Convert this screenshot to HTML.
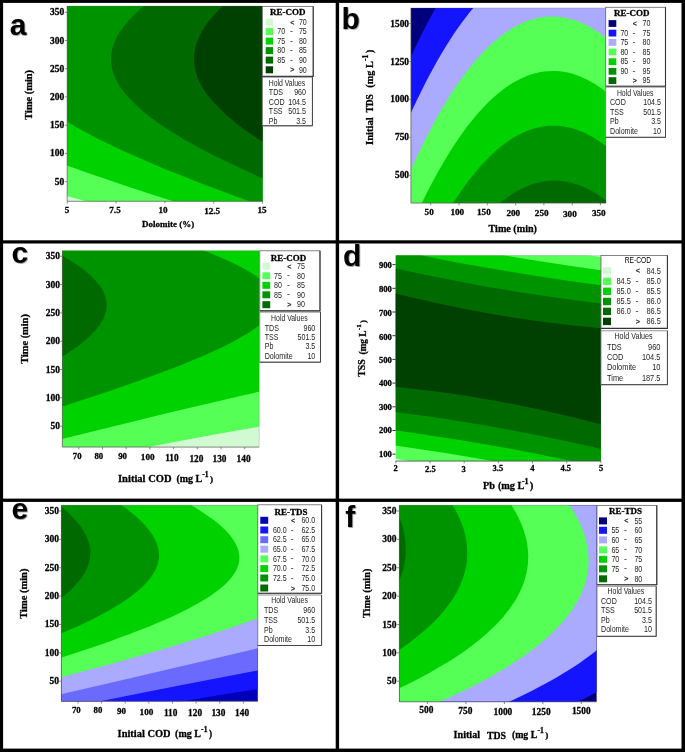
<!DOCTYPE html>
<html><head><meta charset="utf-8"><title>Contour plots</title>
<style>
html,body{margin:0;padding:0;background:#fff;}
body{width:685px;height:752px;overflow:hidden;font-family:"Liberation Sans",sans-serif;}
svg{display:block;}
</style></head><body>
<svg width="685" height="752" viewBox="0 0 685 752">
<g opacity="0.999">
<rect x="0" y="0" width="685" height="752" fill="#fff"/>
<clipPath id="cpa"><rect x="67.20" y="6.00" width="195.40" height="195.30"/></clipPath>
<g clip-path="url(#cpa)">
<rect x="66.20" y="5.00" width="197.40" height="197.30" fill="#d2fad2"/>
<path d="M66.20,5.00 L263.60,5.00 L263.60,202.30 L89.84,202.30 L66.20,195.75 L66.20,5.00Z" fill="#55ff55"/>
<path d="M66.20,5.00 L263.60,5.00 L263.60,202.30 L176.34,202.30 L145.82,192.40 L117.99,183.16 L104.35,178.54 L90.92,173.93 L77.70,169.31 L66.20,165.22 L66.20,5.00Z" fill="#00d200"/>
<path d="M66.20,5.00 L263.60,5.00 L263.60,202.30 L252.26,202.30 L228.70,193.72 L216.30,189.10 L205.85,185.14 L193.86,180.52 L183.77,176.57 L173.86,172.61 L164.15,168.65 L148.41,162.05 L134.76,156.11 L127.40,152.81 L120.20,149.51 L113.18,146.21 L107.70,143.57 L101.01,140.27 L95.79,137.63 L90.70,134.99 L85.75,132.35 L79.74,129.05 L75.08,126.42 L70.57,123.78 L66.20,121.13 L66.20,5.00Z" fill="#009300"/>
<path d="M144.35,5.66 L145.16,5.00 L263.60,5.00 L263.60,178.67 L249.95,172.61 L235.63,166.01 L223.24,160.07 L211.36,154.13 L204.98,150.83 L200.00,148.19 L193.93,144.89 L189.20,142.25 L183.45,138.95 L178.98,136.31 L174.63,133.67 L170.41,131.03 L165.30,127.74 L161.37,125.10 L157.56,122.46 L153.89,119.82 L150.35,117.18 L146.95,114.54 L143.70,111.90 L140.58,109.26 L137.61,106.62 L134.79,103.98 L132.12,101.34 L129.60,98.70 L127.23,96.06 L125.02,93.42 L122.96,90.78 L121.06,88.14 L119.33,85.50 L117.75,82.86 L116.34,80.22 L115.09,77.59 L114.00,74.95 L113.08,72.31 L112.33,69.67 L111.88,67.69 L111.42,65.05 L111.18,63.07 L111.02,60.43 L111.02,57.79 L111.19,55.15 L111.52,52.51 L112.03,49.87 L112.70,47.23 L113.31,45.25 L114.27,42.61 L115.39,39.97 L116.68,37.33 L118.13,34.69 L119.74,32.05 L121.52,29.42 L123.45,26.78 L125.53,24.14 L127.77,21.50 L130.17,18.86 L132.71,16.22 L135.40,13.58 L138.24,10.94 L141.23,8.30 L144.35,5.66Z" fill="#006a00"/>
<path d="M223.15,5.66 L223.86,5.00 L263.60,5.00 L263.60,142.28 L256.37,137.63 L249.54,133.01 L243.07,128.39 L237.80,124.44 L232.01,119.82 L228.87,117.18 L226.60,115.20 L223.68,112.56 L221.57,110.58 L217.58,106.62 L215.09,103.98 L213.31,102.00 L209.97,98.04 L207.92,95.40 L206.47,93.42 L205.10,91.44 L203.80,89.46 L202.59,87.48 L201.09,84.84 L200.07,82.86 L199.12,80.88 L198.25,78.91 L197.47,76.93 L196.76,74.95 L196.14,72.97 L195.60,70.99 L195.14,69.01 L194.65,66.37 L194.38,64.39 L194.20,62.41 L194.09,60.43 L194.07,58.45 L194.13,56.47 L194.28,54.49 L194.50,52.51 L194.81,50.53 L195.20,48.55 L195.67,46.57 L196.23,44.59 L197.09,41.95 L197.83,39.97 L198.66,37.99 L199.56,36.01 L200.54,34.03 L201.98,31.39 L203.15,29.42 L204.39,27.44 L205.72,25.46 L207.61,22.82 L209.11,20.84 L210.70,18.86 L212.35,16.88 L214.68,14.24 L218.42,10.28 L220.40,8.30 L223.15,5.66Z" fill="#004000"/>
</g>
<path d="M67.20,6.00 V201.30 H262.60" fill="none" stroke="#555" stroke-width="0.7"/>
<path d="M67.20,6.00 H262.60 V201.30" fill="none" stroke="#666" stroke-width="0.4" opacity="0.6"/>
<path d="M67.20,201.30 v2.2M116.05,201.30 v2.2M164.90,201.30 v2.2M213.75,201.30 v2.2M262.60,201.30 v2.2" stroke="#555" stroke-width="0.7" fill="none"/>
<path d="M67.00,12.30 h-2.20M67.00,40.50 h-2.20M67.00,68.70 h-2.20M67.00,96.90 h-2.20M67.00,125.20 h-2.20M67.00,153.40 h-2.20M67.00,181.60 h-2.20" stroke="#666" stroke-width="0.70" fill="none"/>
<text x="64.20" y="15.30" font-family="Liberation Serif, serif" font-size="9.50" text-anchor="end" font-weight="bold" fill="#000" stroke="#000" stroke-width="0.28">350</text>
<text x="64.20" y="43.50" font-family="Liberation Serif, serif" font-size="9.50" text-anchor="end" font-weight="bold" fill="#000" stroke="#000" stroke-width="0.28">300</text>
<text x="64.20" y="71.70" font-family="Liberation Serif, serif" font-size="9.50" text-anchor="end" font-weight="bold" fill="#000" stroke="#000" stroke-width="0.28">250</text>
<text x="64.20" y="99.90" font-family="Liberation Serif, serif" font-size="9.50" text-anchor="end" font-weight="bold" fill="#000" stroke="#000" stroke-width="0.28">200</text>
<text x="64.20" y="128.20" font-family="Liberation Serif, serif" font-size="9.50" text-anchor="end" font-weight="bold" fill="#000" stroke="#000" stroke-width="0.28">150</text>
<text x="64.20" y="156.40" font-family="Liberation Serif, serif" font-size="9.50" text-anchor="end" font-weight="bold" fill="#000" stroke="#000" stroke-width="0.28">100</text>
<text x="64.20" y="184.60" font-family="Liberation Serif, serif" font-size="9.50" text-anchor="end" font-weight="bold" fill="#000" stroke="#000" stroke-width="0.28">50</text>
<text x="67.10" y="213.30" font-family="Liberation Serif, serif" font-size="9.10" text-anchor="middle" font-weight="bold" fill="#000" stroke="#000" stroke-width="0.28">5</text>
<text x="115.00" y="213.30" font-family="Liberation Serif, serif" font-size="9.10" text-anchor="middle" font-weight="bold" fill="#000" stroke="#000" stroke-width="0.28">7.5</text>
<text x="163.10" y="213.30" font-family="Liberation Serif, serif" font-size="9.10" text-anchor="middle" font-weight="bold" fill="#000" stroke="#000" stroke-width="0.28">10</text>
<text x="212.10" y="214.10" font-family="Liberation Serif, serif" font-size="9.10" text-anchor="middle" font-weight="bold" fill="#000" stroke="#000" stroke-width="0.28">12.5</text>
<text x="262.00" y="213.30" font-family="Liberation Serif, serif" font-size="9.10" text-anchor="middle" font-weight="bold" fill="#000" stroke="#000" stroke-width="0.28">15</text>
<text x="142.10" y="227.10" font-family="Liberation Serif, serif" font-size="8.99" font-weight="bold" fill="#000" stroke="#000" stroke-width="0.28">Dolomite (%)</text>
<text x="32.40" y="119.70" font-family="Liberation Serif, serif" font-size="10.40" font-weight="bold" fill="#000" transform="rotate(-90 32.40 119.70)" stroke="#000" stroke-width="0.28">Time (min)</text>
<clipPath id="cpb"><rect x="410.90" y="7.90" width="195.20" height="195.20"/></clipPath>
<g clip-path="url(#cpb)">
<rect x="409.90" y="6.90" width="197.20" height="197.20" fill="#00007c"/>
<path d="M436.26,6.90 L607.10,6.90 L607.10,204.10 L409.90,204.10 L409.90,58.86 L413.20,51.73 L416.50,44.78 L419.79,38.02 L423.09,31.43 L426.39,25.02 L429.69,18.79 L432.98,12.74 L436.26,6.90Z" fill="#1414ff"/>
<path d="M473.62,7.56 L474.18,6.90 L607.10,6.90 L607.10,204.10 L409.90,204.10 L409.90,115.21 L413.86,106.59 L417.81,98.23 L421.77,90.13 L425.73,82.28 L429.69,74.70 L433.64,67.38 L437.60,60.31 L441.56,53.49 L445.51,46.93 L449.47,40.63 L453.43,34.57 L457.39,28.77 L461.34,23.21 L465.30,17.91 L469.26,12.85 L473.62,7.56Z" fill="#aaaaff"/>
<path d="M546.05,16.79 L549.72,16.57 L553.68,16.56 L557.64,16.77 L561.59,17.22 L564.89,17.77 L568.85,18.65 L572.80,19.75 L576.76,21.08 L580.06,22.36 L584.02,24.12 L587.97,26.09 L591.93,28.30 L595.23,30.31 L599.19,32.94 L603.14,35.79 L607.10,38.86 L607.10,204.10 L409.90,204.10 L409.90,171.84 L413.20,164.56 L415.96,158.59 L419.13,151.91 L422.43,145.14 L425.73,138.56 L429.03,132.15 L432.32,125.92 L435.62,119.87 L438.92,114.00 L442.22,108.31 L445.51,102.79 L448.81,97.45 L452.11,92.29 L455.41,87.30 L458.71,82.49 L462.00,77.85 L466.71,71.53 L469.26,68.26 L471.90,64.97 L474.53,61.80 L477.17,58.74 L479.81,55.79 L482.45,52.94 L485.09,50.21 L487.72,47.58 L490.36,45.06 L493.00,42.65 L495.64,40.35 L498.28,38.16 L500.92,36.07 L503.55,34.09 L506.19,32.22 L508.83,30.45 L511.47,28.80 L514.11,27.24 L516.74,25.80 L519.38,24.45 L522.02,23.22 L524.66,22.09 L527.30,21.06 L529.93,20.14 L532.57,19.33 L535.21,18.62 L537.85,18.01 L540.49,17.51 L543.13,17.11 L546.05,16.79Z" fill="#55ff55"/>
<path d="M544.14,71.53 L547.74,71.17 L551.70,70.99 L555.66,71.05 L559.61,71.34 L563.57,71.86 L567.53,72.61 L571.49,73.60 L575.44,74.81 L579.40,76.26 L583.36,77.93 L587.31,79.84 L591.27,81.97 L595.23,84.33 L599.19,86.92 L603.14,89.74 L607.10,92.78 L607.10,204.10 L421.30,204.10 L425.07,196.42 L429.03,188.62 L432.67,181.68 L436.28,175.00 L440.24,167.94 L443.75,161.89 L447.49,155.65 L451.45,149.32 L455.41,143.23 L458.85,138.15 L462.66,132.74 L466.62,127.37 L470.58,122.25 L474.53,117.38 L478.49,112.76 L482.45,108.38 L486.15,104.51 L489.70,101.00 L493.66,97.32 L497.62,93.89 L501.57,90.70 L505.53,87.75 L509.49,85.04 L513.45,82.57 L516.74,80.70 L520.70,78.67 L524.66,76.89 L528.62,75.33 L532.57,74.02 L536.53,72.94 L540.49,72.10 L544.14,71.53Z" fill="#00d200"/>
<path d="M544.55,126.28 L548.40,125.87 L552.36,125.68 L556.32,125.73 L560.27,126.02 L563.57,126.43 L567.53,127.14 L571.49,128.09 L575.44,129.26 L579.40,130.67 L583.36,132.31 L587.31,134.17 L591.27,136.27 L595.23,138.60 L599.19,141.15 L603.14,143.94 L607.10,146.95 L607.10,204.10 L452.40,204.10 L455.41,199.44 L458.05,195.47 L461.18,190.91 L463.98,186.96 L466.62,183.36 L469.39,179.70 L472.56,175.66 L475.19,172.42 L477.83,169.30 L480.86,165.85 L483.77,162.66 L486.41,159.89 L489.04,157.23 L492.34,154.06 L495.33,151.34 L498.28,148.78 L500.92,146.61 L503.55,144.55 L506.19,142.60 L509.49,140.31 L512.13,138.60 L515.43,136.61 L518.62,134.85 L521.36,133.46 L524.04,132.21 L527.30,130.84 L529.93,129.85 L533.23,128.76 L535.87,128.01 L539.17,127.22 L541.81,126.70 L544.55,126.28Z" fill="#009300"/>
<path d="M546.93,181.02 L549.06,180.81 L551.04,180.69 L555.00,180.61 L558.95,180.77 L560.93,180.94 L563.57,181.26 L567.53,181.93 L571.49,182.83 L575.44,183.96 L577.42,184.62 L580.06,185.58 L582.04,186.37 L584.68,187.51 L587.31,188.76 L589.95,190.11 L592.59,191.56 L595.23,193.11 L597.87,194.77 L600.50,196.53 L603.80,198.87 L607.10,201.37 L607.10,204.10 L498.73,204.10 L501.57,201.74 L504.87,199.17 L508.05,196.85 L510.81,194.95 L513.45,193.26 L516.74,191.29 L519.85,189.59 L522.68,188.17 L525.32,186.95 L528.62,185.59 L531.25,184.61 L534.55,183.55 L537.19,182.81 L540.49,182.04 L543.78,181.44 L546.93,181.02Z" fill="#006a00"/>
</g>
<path d="M410.90,7.90 V203.10 H606.10" fill="none" stroke="#555" stroke-width="0.7"/>
<path d="M410.90,7.90 H606.10 V203.10" fill="none" stroke="#666" stroke-width="0.4" opacity="0.6"/>
<path d="M430.70,203.10 v2.2M459.00,203.10 v2.2M487.30,203.10 v2.2M515.60,203.10 v2.2M543.90,203.10 v2.2M572.20,203.10 v2.2M600.40,203.10 v2.2" stroke="#555" stroke-width="0.7" fill="none"/>
<path d="M410.70,23.50 h-1.60M410.70,61.50 h-1.60M410.70,99.40 h-1.60M410.70,137.40 h-1.60M410.70,175.40 h-1.60" stroke="#666" stroke-width="0.70" fill="none"/>
<text x="409.00" y="26.50" font-family="Liberation Serif, serif" font-size="9.40" text-anchor="end" font-weight="bold" fill="#000" stroke="#000" stroke-width="0.28">1500</text>
<text x="409.00" y="64.50" font-family="Liberation Serif, serif" font-size="9.40" text-anchor="end" font-weight="bold" fill="#000" stroke="#000" stroke-width="0.28">1250</text>
<text x="409.00" y="102.40" font-family="Liberation Serif, serif" font-size="9.40" text-anchor="end" font-weight="bold" fill="#000" stroke="#000" stroke-width="0.28">1000</text>
<text x="409.00" y="140.40" font-family="Liberation Serif, serif" font-size="9.40" text-anchor="end" font-weight="bold" fill="#000" stroke="#000" stroke-width="0.28">750</text>
<text x="409.00" y="178.40" font-family="Liberation Serif, serif" font-size="9.40" text-anchor="end" font-weight="bold" fill="#000" stroke="#000" stroke-width="0.28">500</text>
<text x="429.20" y="215.30" font-family="Liberation Serif, serif" font-size="9.20" text-anchor="middle" font-weight="bold" fill="#000" stroke="#000" stroke-width="0.28">50</text>
<text x="457.30" y="215.30" font-family="Liberation Serif, serif" font-size="9.20" text-anchor="middle" font-weight="bold" fill="#000" stroke="#000" stroke-width="0.28">100</text>
<text x="483.90" y="215.30" font-family="Liberation Serif, serif" font-size="9.20" text-anchor="middle" font-weight="bold" fill="#000" stroke="#000" stroke-width="0.28">150</text>
<text x="513.30" y="215.70" font-family="Liberation Serif, serif" font-size="9.20" text-anchor="middle" font-weight="bold" fill="#000" stroke="#000" stroke-width="0.28">200</text>
<text x="541.70" y="216.10" font-family="Liberation Serif, serif" font-size="9.20" text-anchor="middle" font-weight="bold" fill="#000" stroke="#000" stroke-width="0.28">250</text>
<text x="569.90" y="216.50" font-family="Liberation Serif, serif" font-size="9.20" text-anchor="middle" font-weight="bold" fill="#000" stroke="#000" stroke-width="0.28">300</text>
<text x="598.80" y="216.00" font-family="Liberation Serif, serif" font-size="9.20" text-anchor="middle" font-weight="bold" fill="#000" stroke="#000" stroke-width="0.28">350</text>
<text x="488.50" y="231.70" font-family="Liberation Serif, serif" font-size="10.15" font-weight="bold" fill="#000" stroke="#000" stroke-width="0.28">Time (min)</text>
<text x="373.30" y="145.00" font-family="Liberation Serif, serif" font-size="10.64" font-weight="bold" fill="#000" transform="rotate(-90 373.30 145.00)" stroke="#000" stroke-width="0.28">Initial</text>
<text x="373.30" y="112.60" font-family="Liberation Serif, serif" font-size="9.51" font-weight="bold" fill="#000" transform="rotate(-90 373.30 112.60)" stroke="#000" stroke-width="0.28">TDS</text>
<text x="373.30" y="87.70" font-family="Liberation Serif, serif" font-size="10.24" font-weight="bold" fill="#000" transform="rotate(-90 373.30 87.70)" stroke="#000" stroke-width="0.28">(mg L</text>
<text x="368.50" y="61.05" font-family="Liberation Serif, serif" font-size="7.80" font-weight="bold" fill="#000" transform="rotate(-90 368.50 61.05)" stroke="#000" stroke-width="0.28">-1</text>
<text x="373.30" y="53.08" font-family="Liberation Serif, serif" font-size="9.53" font-weight="bold" fill="#000" transform="rotate(-90 373.30 53.08)" stroke="#000" stroke-width="0.28">)</text>
<clipPath id="cpc"><rect x="62.40" y="250.70" width="196.80" height="196.40"/></clipPath>
<g clip-path="url(#cpc)">
<rect x="61.40" y="249.70" width="198.80" height="198.40" fill="#d2fad2"/>
<path d="M61.40,249.70 L260.20,249.70 L260.20,426.56 L232.94,431.28 L203.68,436.56 L173.10,442.31 L143.37,448.10 L61.40,448.10 L61.40,249.70Z" fill="#55ff55"/>
<path d="M61.40,249.70 L260.20,249.70 L260.20,391.44 L240.25,395.99 L216.98,401.39 L194.38,406.71 L169.78,412.57 L144.51,418.66 L117.92,425.14 L61.40,439.08 L61.40,249.70Z" fill="#00d200"/>
<path d="M61.40,249.70 L201.90,249.70 L211.93,253.68 L216.72,255.67 L221.36,257.66 L225.83,259.65 L230.15,261.64 L236.95,264.96 L240.79,266.95 L244.45,268.94 L247.92,270.93 L250.13,272.26 L253.27,274.25 L255.25,275.58 L258.04,277.57 L260.20,279.22 L260.20,324.31 L257.25,326.67 L254.56,328.66 L251.71,330.65 L248.69,332.64 L245.52,334.63 L242.19,336.62 L238.71,338.62 L233.85,341.27 L230.05,343.26 L224.78,345.91 L220.68,347.90 L215.03,350.56 L204.67,355.20 L193.75,359.85 L180.65,365.16 L166.95,370.47 L152.73,375.77 L136.16,381.75 L119.06,387.72 L101.49,393.69 L81.48,400.32 L61.40,406.84 L61.40,249.70Z" fill="#009300"/>
<path d="M61.40,255.67 L61.40,255.14 L67.95,258.99 L71.15,260.98 L74.22,262.97 L77.16,264.96 L79.97,266.95 L84.36,270.27 L88.37,273.59 L90.58,275.58 L91.99,276.91 L93.97,278.90 L95.22,280.22 L96.97,282.21 L98.05,283.54 L99.56,285.53 L100.49,286.86 L101.76,288.85 L102.52,290.18 L103.85,292.83 L104.42,294.16 L104.93,295.48 L105.56,297.48 L105.90,298.80 L106.18,300.13 L106.47,302.12 L106.59,303.45 L106.64,305.44 L106.60,306.76 L106.49,308.09 L106.31,309.42 L105.93,311.41 L105.60,312.74 L104.99,314.73 L104.50,316.05 L103.66,318.05 L102.31,320.70 L101.55,322.03 L100.30,324.02 L98.91,326.01 L97.91,327.33 L96.86,328.66 L95.17,330.65 L93.97,331.98 L92.07,333.97 L88.63,337.29 L84.86,340.61 L80.77,343.92 L76.36,347.24 L71.65,350.56 L66.65,353.88 L61.40,357.18 L61.40,255.67Z" fill="#006a00"/>
</g>
<path d="M62.40,250.70 V447.10 H259.20" fill="none" stroke="#555" stroke-width="0.7"/>
<path d="M62.40,250.70 H259.20 V447.10" fill="none" stroke="#666" stroke-width="0.4" opacity="0.6"/>
<path d="M78.80,447.10 v2.2M102.50,447.10 v2.2M126.20,447.10 v2.2M149.90,447.10 v2.2M173.60,447.10 v2.2M197.30,447.10 v2.2M221.00,447.10 v2.2M244.70,447.10 v2.2" stroke="#555" stroke-width="0.7" fill="none"/>
<path d="M62.20,256.20 h-2.20M62.20,284.53 h-2.20M62.20,312.86 h-2.20M62.20,341.19 h-2.20M62.20,369.52 h-2.20M62.20,397.85 h-2.20M62.20,426.18 h-2.20" stroke="#666" stroke-width="0.70" fill="none"/>
<text x="59.90" y="259.20" font-family="Liberation Serif, serif" font-size="9.50" text-anchor="end" font-weight="bold" fill="#000" stroke="#000" stroke-width="0.28">350</text>
<text x="59.90" y="287.53" font-family="Liberation Serif, serif" font-size="9.50" text-anchor="end" font-weight="bold" fill="#000" stroke="#000" stroke-width="0.28">300</text>
<text x="59.90" y="315.86" font-family="Liberation Serif, serif" font-size="9.50" text-anchor="end" font-weight="bold" fill="#000" stroke="#000" stroke-width="0.28">250</text>
<text x="59.90" y="344.19" font-family="Liberation Serif, serif" font-size="9.50" text-anchor="end" font-weight="bold" fill="#000" stroke="#000" stroke-width="0.28">200</text>
<text x="59.90" y="372.52" font-family="Liberation Serif, serif" font-size="9.50" text-anchor="end" font-weight="bold" fill="#000" stroke="#000" stroke-width="0.28">150</text>
<text x="59.90" y="400.85" font-family="Liberation Serif, serif" font-size="9.50" text-anchor="end" font-weight="bold" fill="#000" stroke="#000" stroke-width="0.28">100</text>
<text x="59.90" y="429.18" font-family="Liberation Serif, serif" font-size="9.50" text-anchor="end" font-weight="bold" fill="#000" stroke="#000" stroke-width="0.28">50</text>
<text x="77.20" y="458.50" font-family="Liberation Serif, serif" font-size="8.70" text-anchor="middle" font-weight="bold" fill="#000" stroke="#000" stroke-width="0.28">70</text>
<text x="98.80" y="458.50" font-family="Liberation Serif, serif" font-size="8.70" text-anchor="middle" font-weight="bold" fill="#000" stroke="#000" stroke-width="0.28">80</text>
<text x="122.60" y="459.00" font-family="Liberation Serif, serif" font-size="8.90" text-anchor="middle" font-weight="bold" fill="#000" stroke="#000" stroke-width="0.28">90</text>
<text x="147.70" y="460.10" font-family="Liberation Serif, serif" font-size="9.20" text-anchor="middle" font-weight="bold" fill="#000" stroke="#000" stroke-width="0.28">100</text>
<text x="171.90" y="461.40" font-family="Liberation Serif, serif" font-size="9.30" text-anchor="middle" font-weight="bold" fill="#000" stroke="#000" stroke-width="0.28">110</text>
<text x="196.40" y="461.70" font-family="Liberation Serif, serif" font-size="9.30" text-anchor="middle" font-weight="bold" fill="#000" stroke="#000" stroke-width="0.28">120</text>
<text x="219.50" y="461.70" font-family="Liberation Serif, serif" font-size="9.30" text-anchor="middle" font-weight="bold" fill="#000" stroke="#000" stroke-width="0.28">130</text>
<text x="243.60" y="461.70" font-family="Liberation Serif, serif" font-size="9.30" text-anchor="middle" font-weight="bold" fill="#000" stroke="#000" stroke-width="0.28">140</text>
<text x="118.00" y="482.10" font-family="Liberation Serif, serif" font-size="10.56" font-weight="bold" fill="#000" stroke="#000" stroke-width="0.28">Initial COD</text>
<text x="176.40" y="482.10" font-family="Liberation Serif, serif" font-size="9.97" font-weight="bold" fill="#000" stroke="#000" stroke-width="0.28">(mg L</text>
<text x="202.34" y="477.30" font-family="Liberation Serif, serif" font-size="7.60" font-weight="bold" fill="#000" stroke="#000" stroke-width="0.28">-1</text>
<text x="210.11" y="482.10" font-family="Liberation Serif, serif" font-size="9.28" font-weight="bold" fill="#000" stroke="#000" stroke-width="0.28">)</text>
<text x="27.70" y="363.80" font-family="Liberation Serif, serif" font-size="10.38" font-weight="bold" fill="#000" transform="rotate(-90 27.70 363.80)" stroke="#000" stroke-width="0.28">Time (min)</text>
<clipPath id="cpd"><rect x="395.80" y="255.60" width="205.10" height="205.50"/></clipPath>
<g clip-path="url(#cpd)">
<rect x="394.80" y="254.60" width="207.10" height="207.50" fill="#d2fad2"/>
<path d="M394.80,254.60 L584.43,254.60 L601.90,257.12 L601.90,462.10 L417.11,462.10 L394.80,458.76 L394.80,254.60Z" fill="#55ff55"/>
<path d="M394.80,254.60 L500.10,254.60 L525.71,258.90 L549.95,262.75 L576.27,266.71 L601.90,270.34 L601.90,462.10 L498.32,462.10 L472.38,457.58 L446.75,453.35 L420.43,449.24 L394.80,445.47 L394.80,254.60Z" fill="#00d200"/>
<path d="M394.80,254.60 L417.97,254.60 L440.51,259.13 L462.68,263.38 L485.54,267.55 L509.09,271.62 L533.33,275.57 L556.19,279.08 L578.35,282.27 L601.90,285.46 L601.90,462.10 L577.55,462.10 L554.80,457.39 L531.25,452.73 L509.09,448.56 L486.23,444.47 L464.06,440.71 L440.51,436.93 L416.96,433.38 L394.80,430.25 L394.80,254.60Z" fill="#009300"/>
<path d="M394.80,268.48 L394.80,268.11 L410.04,271.48 L423.89,274.44 L439.82,277.72 L454.37,280.60 L465.45,282.73 L477.22,284.91 L488.31,286.91 L500.77,289.07 L513.24,291.15 L525.71,293.15 L538.18,295.07 L549.95,296.81 L562.42,298.57 L574.89,300.26 L588.74,302.05 L601.90,303.66 L601.90,449.16 L587.35,445.84 L574.89,443.06 L561.73,440.22 L549.26,437.60 L535.41,434.79 L523.63,432.47 L510.47,429.97 L498.00,427.69 L486.23,425.60 L473.76,423.48 L461.29,421.43 L447.44,419.25 L434.28,417.28 L421.12,415.39 L408.65,413.68 L394.80,411.87 L394.80,268.48Z" fill="#006a00"/>
<path d="M394.80,293.46 L394.80,293.23 L408.65,296.63 L423.20,300.06 L438.44,303.48 L451.60,306.29 L464.76,308.96 L475.84,311.09 L487.61,313.25 L499.39,315.28 L512.55,317.42 L525.02,319.31 L536.79,320.98 L549.95,322.71 L563.11,324.31 L575.58,325.71 L588.74,327.07 L601.90,328.32 L601.90,424.51 L588.05,420.95 L575.58,417.86 L561.73,414.55 L549.26,411.69 L536.79,408.95 L523.63,406.19 L510.47,403.58 L498.00,401.23 L486.23,399.14 L473.76,397.06 L461.29,395.10 L447.44,393.08 L433.59,391.21 L421.12,389.66 L407.96,388.15 L394.80,386.76 L394.80,293.46Z" fill="#004000"/>
</g>
<path d="M395.80,461.10 H600.90" fill="none" stroke="#444" stroke-width="0.8"/>
<path d="M395.80,255.60 H600.90 V461.10" fill="none" stroke="#666" stroke-width="0.4" opacity="0.6"/>
<path d="M395.80,461.10 v2.2M429.98,461.10 v2.2M464.16,461.10 v2.2M498.34,461.10 v2.2M532.52,461.10 v2.2M566.70,461.10 v2.2M600.88,461.10 v2.2" stroke="#555" stroke-width="0.7" fill="none"/>
<path d="M395.60,264.60 h-3.20M395.60,288.30 h-3.20M395.60,312.00 h-3.20M395.60,335.70 h-3.20M395.60,359.40 h-3.20M395.60,383.10 h-3.20M395.60,406.80 h-3.20M395.60,430.50 h-3.20M395.60,454.20 h-3.20" stroke="#333" stroke-width="1.00" fill="none"/>
<text x="391.80" y="268.00" font-family="Liberation Serif, serif" font-size="8.60" text-anchor="end" font-weight="bold" fill="#000" stroke="#000" stroke-width="0.28">900</text>
<text x="391.80" y="292.00" font-family="Liberation Serif, serif" font-size="8.60" text-anchor="end" font-weight="bold" fill="#000" stroke="#000" stroke-width="0.28">800</text>
<text x="391.80" y="315.80" font-family="Liberation Serif, serif" font-size="8.60" text-anchor="end" font-weight="bold" fill="#000" stroke="#000" stroke-width="0.28">700</text>
<text x="391.80" y="339.70" font-family="Liberation Serif, serif" font-size="8.60" text-anchor="end" font-weight="bold" fill="#000" stroke="#000" stroke-width="0.28">600</text>
<text x="391.80" y="362.50" font-family="Liberation Serif, serif" font-size="8.60" text-anchor="end" font-weight="bold" fill="#000" stroke="#000" stroke-width="0.28">500</text>
<text x="391.80" y="385.70" font-family="Liberation Serif, serif" font-size="8.60" text-anchor="end" font-weight="bold" fill="#000" stroke="#000" stroke-width="0.28">400</text>
<text x="391.80" y="409.50" font-family="Liberation Serif, serif" font-size="8.60" text-anchor="end" font-weight="bold" fill="#000" stroke="#000" stroke-width="0.28">300</text>
<text x="391.80" y="433.30" font-family="Liberation Serif, serif" font-size="8.60" text-anchor="end" font-weight="bold" fill="#000" stroke="#000" stroke-width="0.28">200</text>
<text x="391.80" y="457.10" font-family="Liberation Serif, serif" font-size="8.60" text-anchor="end" font-weight="bold" fill="#000" stroke="#000" stroke-width="0.28">100</text>
<text x="395.70" y="471.10" font-family="Liberation Serif, serif" font-size="8.50" text-anchor="middle" font-weight="bold" fill="#000" stroke="#000" stroke-width="0.28">2</text>
<text x="430.40" y="471.50" font-family="Liberation Serif, serif" font-size="8.50" text-anchor="middle" font-weight="bold" fill="#000" stroke="#000" stroke-width="0.28">2.5</text>
<text x="463.70" y="471.50" font-family="Liberation Serif, serif" font-size="8.50" text-anchor="middle" font-weight="bold" fill="#000" stroke="#000" stroke-width="0.28">3</text>
<text x="497.90" y="471.20" font-family="Liberation Serif, serif" font-size="8.50" text-anchor="middle" font-weight="bold" fill="#000" stroke="#000" stroke-width="0.28">3.5</text>
<text x="532.30" y="470.60" font-family="Liberation Serif, serif" font-size="8.50" text-anchor="middle" font-weight="bold" fill="#000" stroke="#000" stroke-width="0.28">4</text>
<text x="565.70" y="470.60" font-family="Liberation Serif, serif" font-size="8.50" text-anchor="middle" font-weight="bold" fill="#000" stroke="#000" stroke-width="0.28">4.5</text>
<text x="601.00" y="470.60" font-family="Liberation Serif, serif" font-size="8.50" text-anchor="middle" font-weight="bold" fill="#000" stroke="#000" stroke-width="0.28">5</text>
<text x="483.00" y="488.70" font-family="Liberation Serif, serif" font-size="10.28" font-weight="bold" fill="#000" stroke="#000" stroke-width="0.28">Pb</text>
<text x="497.90" y="488.80" font-family="Liberation Serif, serif" font-size="10.26" font-weight="bold" fill="#000" stroke="#000" stroke-width="0.28">(mg L</text>
<text x="521.90" y="484.40" font-family="Liberation Serif, serif" font-size="8.04" font-weight="bold" fill="#000" stroke="#000" stroke-width="0.28">-1</text>
<text x="529.70" y="488.80" font-family="Liberation Serif, serif" font-size="10.81" font-weight="bold" fill="#000" stroke="#000" stroke-width="0.28">)</text>
<text x="365.50" y="376.70" font-family="Liberation Serif, serif" font-size="9.72" font-weight="bold" fill="#000" transform="rotate(-90 365.50 376.70)" stroke="#000" stroke-width="0.28">TSS</text>
<text x="366.20" y="354.60" font-family="Liberation Serif, serif" font-size="9.38" font-weight="bold" fill="#000" transform="rotate(-90 366.20 354.60)" stroke="#000" stroke-width="0.28">(mg L</text>
<text x="361.40" y="330.21" font-family="Liberation Serif, serif" font-size="7.14" font-weight="bold" fill="#000" transform="rotate(-90 361.40 330.21)" stroke="#000" stroke-width="0.28">-1</text>
<text x="366.20" y="322.91" font-family="Liberation Serif, serif" font-size="8.73" font-weight="bold" fill="#000" transform="rotate(-90 366.20 322.91)" stroke="#000" stroke-width="0.28">)</text>
<clipPath id="cpe"><rect x="61.40" y="505.30" width="196.40" height="196.00"/></clipPath>
<g clip-path="url(#cpe)">
<rect x="60.40" y="504.30" width="198.40" height="198.00" fill="#0000ba"/>
<path d="M60.40,504.30 L258.80,504.30 L258.80,688.90 L238.89,692.03 L218.32,695.35 L197.75,698.75 L176.77,702.30 L60.40,702.30 L60.40,504.30Z" fill="#1414ff"/>
<path d="M60.40,504.30 L258.80,504.30 L258.80,670.32 L220.98,677.44 L183.16,684.75 L140.03,693.27 L95.18,702.30 L60.40,702.30 L60.40,504.30Z" fill="#6a6aff"/>
<path d="M60.40,504.30 L258.80,504.30 L258.80,647.96 L216.86,657.93 L171.75,668.53 L120.51,680.45 L60.40,694.33 L60.40,504.30Z" fill="#aaaaff"/>
<path d="M60.40,504.30 L258.80,504.30 L258.80,617.74 L250.40,620.85 L241.12,624.16 L231.53,627.47 L221.66,630.78 L211.51,634.09 L201.11,637.40 L190.47,640.71 L177.42,644.69 L166.32,648.00 L152.74,651.97 L138.91,655.95 L124.84,659.92 L110.56,663.89 L93.65,668.53 L60.40,677.45 L60.40,504.30Z" fill="#55ff55"/>
<path d="M60.40,504.30 L189.79,504.30 L194.24,506.95 L197.47,508.94 L203.63,512.91 L206.55,514.90 L209.37,516.88 L212.08,518.87 L214.68,520.86 L217.16,522.84 L219.52,524.83 L221.77,526.82 L223.89,528.80 L225.89,530.79 L227.76,532.77 L229.49,534.76 L231.10,536.75 L232.57,538.73 L233.90,540.72 L235.09,542.71 L236.14,544.69 L237.04,546.68 L237.80,548.67 L238.41,550.65 L238.73,551.98 L239.09,553.97 L239.29,555.95 L239.34,557.94 L239.29,559.26 L239.08,561.25 L238.72,563.24 L238.39,564.56 L237.76,566.55 L237.26,567.87 L236.68,569.20 L236.03,570.52 L235.32,571.85 L234.11,573.83 L232.25,576.48 L230.12,579.13 L227.71,581.78 L225.02,584.43 L222.06,587.08 L218.83,589.72 L215.34,592.37 L211.59,595.02 L207.58,597.67 L203.31,600.32 L198.81,602.97 L194.06,605.62 L187.80,608.93 L182.54,611.58 L177.05,614.23 L171.35,616.88 L163.94,620.19 L157.78,622.84 L149.82,626.15 L143.24,628.79 L134.76,632.11 L127.79,634.75 L118.84,638.07 L109.65,641.38 L100.22,644.69 L90.56,648.00 L80.70,651.31 L60.40,657.92 L60.40,504.30Z" fill="#00d200"/>
<path d="M60.40,504.30 L120.28,504.30 L124.90,507.61 L129.26,510.92 L133.36,514.23 L137.19,517.54 L140.73,520.86 L143.99,524.17 L146.94,527.48 L149.59,530.79 L151.03,532.77 L151.92,534.10 L153.17,536.09 L153.93,537.41 L154.98,539.40 L155.62,540.72 L156.72,543.37 L157.41,545.36 L157.80,546.68 L158.41,549.33 L158.72,551.32 L158.85,552.64 L158.96,555.29 L158.83,557.94 L158.48,560.59 L157.89,563.24 L157.29,565.22 L156.30,567.87 L155.40,569.86 L154.37,571.85 L152.78,574.49 L150.97,577.14 L149.46,579.13 L147.82,581.12 L145.42,583.76 L143.48,585.75 L140.69,588.40 L137.67,591.05 L134.43,593.70 L131.86,595.68 L128.23,598.33 L124.39,600.98 L120.34,603.63 L117.17,605.62 L112.76,608.27 L108.14,610.92 L103.33,613.56 L99.60,615.55 L94.45,618.20 L89.12,620.85 L83.60,623.50 L77.91,626.15 L72.05,628.79 L60.40,633.85 L60.40,504.30Z" fill="#009300"/>
<path d="M60.40,506.29 L60.40,505.70 L64.20,508.94 L66.41,510.92 L68.54,512.91 L70.58,514.90 L72.52,516.88 L75.55,520.19 L78.32,523.50 L80.81,526.82 L82.61,529.46 L84.60,532.77 L85.98,535.42 L86.60,536.75 L87.45,538.73 L88.41,541.38 L89.01,543.37 L89.34,544.69 L89.87,547.34 L90.14,549.33 L90.25,550.65 L90.34,553.30 L90.30,554.63 L90.16,556.61 L89.79,559.26 L89.22,561.91 L88.44,564.56 L87.98,565.89 L87.19,567.87 L85.95,570.52 L84.51,573.17 L82.87,575.82 L81.02,578.47 L78.98,581.12 L76.72,583.76 L73.63,587.08 L70.93,589.72 L67.27,593.04 L64.13,595.68 L60.40,598.63 L60.40,506.29Z" fill="#006a00"/>
</g>
<path d="M61.40,505.30 V701.30 H257.80" fill="none" stroke="#555" stroke-width="0.7"/>
<path d="M61.40,505.30 H257.80 V701.30" fill="none" stroke="#666" stroke-width="0.4" opacity="0.6"/>
<path d="M78.00,701.30 v2.2M101.63,701.30 v2.2M125.26,701.30 v2.2M148.89,701.30 v2.2M172.52,701.30 v2.2M196.15,701.30 v2.2M219.78,701.30 v2.2M243.41,701.30 v2.2" stroke="#555" stroke-width="0.7" fill="none"/>
<path d="M61.20,511.00 h-2.20M61.20,539.37 h-2.20M61.20,567.74 h-2.20M61.20,596.11 h-2.20M61.20,624.48 h-2.20M61.20,652.85 h-2.20M61.20,681.22 h-2.20" stroke="#666" stroke-width="0.70" fill="none"/>
<text x="59.10" y="514.00" font-family="Liberation Serif, serif" font-size="9.50" text-anchor="end" font-weight="bold" fill="#000" stroke="#000" stroke-width="0.28">350</text>
<text x="59.10" y="542.37" font-family="Liberation Serif, serif" font-size="9.50" text-anchor="end" font-weight="bold" fill="#000" stroke="#000" stroke-width="0.28">300</text>
<text x="59.10" y="570.74" font-family="Liberation Serif, serif" font-size="9.50" text-anchor="end" font-weight="bold" fill="#000" stroke="#000" stroke-width="0.28">250</text>
<text x="59.10" y="599.11" font-family="Liberation Serif, serif" font-size="9.50" text-anchor="end" font-weight="bold" fill="#000" stroke="#000" stroke-width="0.28">200</text>
<text x="59.10" y="627.48" font-family="Liberation Serif, serif" font-size="9.50" text-anchor="end" font-weight="bold" fill="#000" stroke="#000" stroke-width="0.28">150</text>
<text x="59.10" y="655.85" font-family="Liberation Serif, serif" font-size="9.50" text-anchor="end" font-weight="bold" fill="#000" stroke="#000" stroke-width="0.28">100</text>
<text x="59.10" y="684.22" font-family="Liberation Serif, serif" font-size="9.50" text-anchor="end" font-weight="bold" fill="#000" stroke="#000" stroke-width="0.28">50</text>
<text x="76.30" y="713.00" font-family="Liberation Serif, serif" font-size="8.80" text-anchor="middle" font-weight="bold" fill="#000" stroke="#000" stroke-width="0.28">70</text>
<text x="98.00" y="713.00" font-family="Liberation Serif, serif" font-size="8.80" text-anchor="middle" font-weight="bold" fill="#000" stroke="#000" stroke-width="0.28">80</text>
<text x="121.60" y="713.50" font-family="Liberation Serif, serif" font-size="9.00" text-anchor="middle" font-weight="bold" fill="#000" stroke="#000" stroke-width="0.28">90</text>
<text x="146.50" y="714.60" font-family="Liberation Serif, serif" font-size="9.20" text-anchor="middle" font-weight="bold" fill="#000" stroke="#000" stroke-width="0.28">100</text>
<text x="170.70" y="715.90" font-family="Liberation Serif, serif" font-size="9.30" text-anchor="middle" font-weight="bold" fill="#000" stroke="#000" stroke-width="0.28">110</text>
<text x="195.10" y="716.20" font-family="Liberation Serif, serif" font-size="9.30" text-anchor="middle" font-weight="bold" fill="#000" stroke="#000" stroke-width="0.28">120</text>
<text x="218.40" y="715.90" font-family="Liberation Serif, serif" font-size="9.30" text-anchor="middle" font-weight="bold" fill="#000" stroke="#000" stroke-width="0.28">130</text>
<text x="242.10" y="715.90" font-family="Liberation Serif, serif" font-size="9.30" text-anchor="middle" font-weight="bold" fill="#000" stroke="#000" stroke-width="0.28">140</text>
<text x="117.60" y="737.10" font-family="Liberation Serif, serif" font-size="10.44" font-weight="bold" fill="#000" stroke="#000" stroke-width="0.28">Initial COD</text>
<text x="175.10" y="737.10" font-family="Liberation Serif, serif" font-size="10.00" font-weight="bold" fill="#000" stroke="#000" stroke-width="0.28">(mg L</text>
<text x="201.11" y="732.30" font-family="Liberation Serif, serif" font-size="7.62" font-weight="bold" fill="#000" stroke="#000" stroke-width="0.28">-1</text>
<text x="208.90" y="737.10" font-family="Liberation Serif, serif" font-size="9.31" font-weight="bold" fill="#000" stroke="#000" stroke-width="0.28">)</text>
<text x="27.40" y="618.80" font-family="Liberation Serif, serif" font-size="10.49" font-weight="bold" fill="#000" transform="rotate(-90 27.40 618.80)" stroke="#000" stroke-width="0.28">Time (min)</text>
<clipPath id="cpf"><rect x="399.40" y="505.30" width="197.20" height="196.50"/></clipPath>
<g clip-path="url(#cpf)">
<rect x="398.40" y="504.30" width="199.20" height="198.50" fill="#00007c"/>
<path d="M398.40,504.30 L597.60,504.30 L597.60,691.73 L591.61,694.83 L586.34,697.49 L575.40,702.80 L398.40,702.80 L398.40,504.30Z" fill="#1414ff"/>
<path d="M398.40,504.30 L597.60,504.30 L597.60,649.63 L593.31,653.01 L588.27,656.80 L583.39,660.31 L578.58,663.63 L573.58,666.95 L568.39,670.27 L563.00,673.59 L557.42,676.91 L551.63,680.23 L545.64,683.55 L539.45,686.87 L533.04,690.19 L526.43,693.51 L520.32,696.48 L513.98,699.48 L506.76,702.80 L398.40,702.80 L398.40,504.30Z" fill="#aaaaff"/>
<path d="M398.40,504.30 L568.85,504.30 L571.06,507.62 L572.75,510.27 L574.74,513.59 L576.23,516.25 L577.99,519.57 L579.30,522.22 L580.82,525.54 L581.94,528.20 L583.22,531.52 L584.14,534.17 L585.18,537.49 L585.91,540.15 L586.70,543.47 L587.24,546.12 L587.78,549.44 L588.11,552.10 L588.40,555.42 L588.53,558.07 L588.56,561.39 L588.49,564.05 L588.26,567.37 L587.98,570.02 L587.60,572.68 L587.12,575.34 L586.39,578.65 L585.70,581.31 L584.70,584.63 L583.80,587.28 L582.52,590.60 L581.39,593.26 L580.16,595.92 L578.83,598.57 L577.39,601.23 L575.86,603.88 L574.28,606.44 L572.92,608.53 L571.10,611.18 L569.67,613.18 L567.66,615.83 L566.09,617.82 L564.29,620.01 L562.18,622.47 L560.29,624.58 L557.94,627.12 L553.35,631.76 L548.43,636.41 L543.16,641.06 L537.53,645.71 L531.54,650.35 L525.19,655.00 L518.47,659.65 L511.36,664.29 L503.88,668.94 L497.00,673.01 L490.13,676.91 L482.81,680.89 L475.68,684.63 L468.62,688.19 L461.02,691.90 L453.38,695.50 L445.04,699.29 L437.06,702.80 L398.40,702.80 L398.40,504.30Z" fill="#55ff55"/>
<path d="M398.40,504.30 L510.82,504.30 L512.91,507.62 L514.87,510.94 L516.70,514.26 L518.41,517.58 L519.97,520.90 L521.41,524.22 L522.71,527.54 L523.87,530.86 L524.90,534.17 L525.79,537.49 L526.54,540.81 L527.16,544.13 L527.63,547.45 L527.96,550.77 L528.15,554.09 L528.19,556.75 L528.15,559.40 L528.05,561.39 L527.70,565.38 L527.35,568.03 L527.03,570.02 L526.21,574.01 L525.65,576.29 L524.99,578.65 L523.70,582.64 L522.72,585.29 L521.92,587.28 L520.14,591.27 L518.99,593.62 L517.78,595.92 L515.51,599.90 L513.87,602.55 L512.56,604.55 L509.78,608.53 L508.30,610.52 L506.33,613.06 L502.93,617.16 L499.37,621.14 L495.57,625.13 L491.00,629.59 L486.46,633.76 L481.85,637.74 L476.97,641.72 L471.83,645.71 L466.41,649.69 L460.72,653.67 L454.75,657.66 L448.50,661.64 L441.96,665.62 L435.13,669.61 L428.38,673.39 L421.84,676.91 L414.16,680.89 L406.17,684.88 L398.40,688.61 L398.40,504.30Z" fill="#00d200"/>
<path d="M398.40,504.30 L452.15,504.30 L454.11,507.62 L455.94,510.94 L457.64,514.26 L458.90,516.91 L460.35,520.23 L461.42,522.89 L462.63,526.21 L463.50,528.86 L464.46,532.18 L465.13,534.84 L465.84,538.16 L466.31,540.81 L466.77,544.13 L467.03,546.79 L467.23,550.11 L467.29,552.76 L467.22,556.08 L467.01,559.40 L466.65,562.72 L466.26,565.38 L465.63,568.70 L464.85,572.02 L463.91,575.34 L463.05,577.99 L461.84,581.31 L460.47,584.63 L459.03,587.77 L457.60,590.60 L455.78,593.92 L454.21,596.58 L452.36,599.48 L450.28,602.55 L447.87,605.87 L445.28,609.19 L442.53,612.51 L440.20,615.17 L437.14,618.49 L434.56,621.14 L431.71,623.95 L428.38,627.08 L425.05,630.07 L421.53,633.09 L417.72,636.23 L414.13,639.07 L410.39,641.91 L406.12,645.04 L402.36,647.70 L398.40,650.40 L398.40,504.30Z" fill="#009300"/>
<path d="M398.40,515.59 L398.40,515.40 L398.48,515.59 L399.85,518.91 L400.84,521.56 L401.53,523.55 L402.37,526.21 L402.94,528.20 L403.92,532.18 L404.47,534.84 L404.82,536.83 L405.37,540.81 L405.61,543.47 L405.74,545.46 L405.83,549.44 L405.77,552.10 L405.67,554.09 L405.30,558.07 L404.71,562.06 L403.90,566.04 L402.87,570.02 L401.62,574.01 L400.14,577.99 L398.40,582.04 L398.40,515.59Z" fill="#006a00"/>
</g>
<path d="M399.40,505.30 V701.80 H596.60" fill="none" stroke="#555" stroke-width="0.7"/>
<path d="M399.40,505.30 H596.60 V701.80" fill="none" stroke="#666" stroke-width="0.4" opacity="0.6"/>
<path d="M427.40,701.80 v2.2M465.88,701.80 v2.2M504.36,701.80 v2.2M542.84,701.80 v2.2M581.32,701.80 v2.2" stroke="#555" stroke-width="0.7" fill="none"/>
<path d="M399.20,511.00 h-2.20M399.20,539.38 h-2.20M399.20,567.76 h-2.20M399.20,596.14 h-2.20M399.20,624.52 h-2.20M399.20,652.90 h-2.20M399.20,681.28 h-2.20" stroke="#666" stroke-width="0.70" fill="none"/>
<text x="396.60" y="514.00" font-family="Liberation Serif, serif" font-size="9.50" text-anchor="end" font-weight="bold" fill="#000" stroke="#000" stroke-width="0.28">350</text>
<text x="396.60" y="542.38" font-family="Liberation Serif, serif" font-size="9.50" text-anchor="end" font-weight="bold" fill="#000" stroke="#000" stroke-width="0.28">300</text>
<text x="396.60" y="570.76" font-family="Liberation Serif, serif" font-size="9.50" text-anchor="end" font-weight="bold" fill="#000" stroke="#000" stroke-width="0.28">250</text>
<text x="396.60" y="599.14" font-family="Liberation Serif, serif" font-size="9.50" text-anchor="end" font-weight="bold" fill="#000" stroke="#000" stroke-width="0.28">200</text>
<text x="396.60" y="627.52" font-family="Liberation Serif, serif" font-size="9.50" text-anchor="end" font-weight="bold" fill="#000" stroke="#000" stroke-width="0.28">150</text>
<text x="396.60" y="655.90" font-family="Liberation Serif, serif" font-size="9.50" text-anchor="end" font-weight="bold" fill="#000" stroke="#000" stroke-width="0.28">100</text>
<text x="396.60" y="684.28" font-family="Liberation Serif, serif" font-size="9.50" text-anchor="end" font-weight="bold" fill="#000" stroke="#000" stroke-width="0.28">50</text>
<text x="426.30" y="713.00" font-family="Liberation Serif, serif" font-size="9.40" text-anchor="middle" font-weight="bold" fill="#000" stroke="#000" stroke-width="0.28">500</text>
<text x="465.30" y="713.90" font-family="Liberation Serif, serif" font-size="9.40" text-anchor="middle" font-weight="bold" fill="#000" stroke="#000" stroke-width="0.28">750</text>
<text x="502.90" y="714.60" font-family="Liberation Serif, serif" font-size="9.40" text-anchor="middle" font-weight="bold" fill="#000" stroke="#000" stroke-width="0.28">1000</text>
<text x="541.20" y="714.60" font-family="Liberation Serif, serif" font-size="9.40" text-anchor="middle" font-weight="bold" fill="#000" stroke="#000" stroke-width="0.28">1250</text>
<text x="581.30" y="714.30" font-family="Liberation Serif, serif" font-size="9.40" text-anchor="middle" font-weight="bold" fill="#000" stroke="#000" stroke-width="0.28">1500</text>
<text x="453.60" y="737.60" font-family="Liberation Serif, serif" font-size="10.15" font-weight="bold" fill="#000" stroke="#000" stroke-width="0.28">Initial</text>
<text x="486.90" y="738.70" font-family="Liberation Serif, serif" font-size="9.77" font-weight="bold" fill="#000" stroke="#000" stroke-width="0.28">TDS</text>
<text x="511.90" y="737.60" font-family="Liberation Serif, serif" font-size="9.86" font-weight="bold" fill="#000" stroke="#000" stroke-width="0.28">(mg L</text>
<text x="537.56" y="732.80" font-family="Liberation Serif, serif" font-size="7.52" font-weight="bold" fill="#000" stroke="#000" stroke-width="0.28">-1</text>
<text x="545.24" y="737.60" font-family="Liberation Serif, serif" font-size="9.18" font-weight="bold" fill="#000" stroke="#000" stroke-width="0.28">)</text>
<text x="370.40" y="618.10" font-family="Liberation Serif, serif" font-size="10.34" font-weight="bold" fill="#000" transform="rotate(-90 370.40 618.10)" stroke="#000" stroke-width="0.28">Time (min)</text>
<rect x="262.30" y="6.60" width="50.90" height="69.80" fill="#fff" stroke="#666" stroke-width="0.8"/>
<path d="M262.30,76.40 H313.20 V6.60" fill="none" stroke="#333" stroke-width="1.1"/>
<text x="287.80" y="15.20" font-family="Liberation Serif, serif" font-size="9.00" text-anchor="middle" font-weight="bold" fill="#000" stroke="#000" stroke-width="0.28">RE-COD</text>
<rect x="265.70" y="18.60" width="7.40" height="7.00" fill="#d2fad2"/>
<text x="292.40" y="24.60" font-family="Liberation Sans, sans-serif" font-size="7.10" text-anchor="middle" fill="#1c1c1c" stroke="#1c1c1c" stroke-width="0.25">&lt;</text>
<text x="306.80" y="24.80" font-family="Liberation Sans, sans-serif" font-size="8.66" text-anchor="end" fill="#1c1c1c" textLength="7.90" lengthAdjust="spacingAndGlyphs">70</text>
<rect x="265.70" y="28.10" width="7.40" height="7.00" fill="#55ff55"/>
<text x="285.20" y="34.30" font-family="Liberation Sans, sans-serif" font-size="8.66" text-anchor="end" fill="#1c1c1c" textLength="7.90" lengthAdjust="spacingAndGlyphs">70</text>
<text x="291.50" y="34.10" font-family="Liberation Sans, sans-serif" font-size="8.66" text-anchor="middle" fill="#1c1c1c">-</text>
<text x="306.80" y="34.30" font-family="Liberation Sans, sans-serif" font-size="8.66" text-anchor="end" fill="#1c1c1c" textLength="7.90" lengthAdjust="spacingAndGlyphs">75</text>
<rect x="265.70" y="37.60" width="7.40" height="7.00" fill="#00d200"/>
<text x="285.20" y="43.80" font-family="Liberation Sans, sans-serif" font-size="8.66" text-anchor="end" fill="#1c1c1c" textLength="7.90" lengthAdjust="spacingAndGlyphs">75</text>
<text x="291.50" y="43.60" font-family="Liberation Sans, sans-serif" font-size="8.66" text-anchor="middle" fill="#1c1c1c">-</text>
<text x="306.80" y="43.80" font-family="Liberation Sans, sans-serif" font-size="8.66" text-anchor="end" fill="#1c1c1c" textLength="7.90" lengthAdjust="spacingAndGlyphs">80</text>
<rect x="265.70" y="47.10" width="7.40" height="7.00" fill="#009300"/>
<text x="285.20" y="53.30" font-family="Liberation Sans, sans-serif" font-size="8.66" text-anchor="end" fill="#1c1c1c" textLength="7.90" lengthAdjust="spacingAndGlyphs">80</text>
<text x="291.50" y="53.10" font-family="Liberation Sans, sans-serif" font-size="8.66" text-anchor="middle" fill="#1c1c1c">-</text>
<text x="306.80" y="53.30" font-family="Liberation Sans, sans-serif" font-size="8.66" text-anchor="end" fill="#1c1c1c" textLength="7.90" lengthAdjust="spacingAndGlyphs">85</text>
<rect x="265.70" y="56.60" width="7.40" height="7.00" fill="#006a00"/>
<text x="285.20" y="62.80" font-family="Liberation Sans, sans-serif" font-size="8.66" text-anchor="end" fill="#1c1c1c" textLength="7.90" lengthAdjust="spacingAndGlyphs">85</text>
<text x="291.50" y="62.60" font-family="Liberation Sans, sans-serif" font-size="8.66" text-anchor="middle" fill="#1c1c1c">-</text>
<text x="306.80" y="62.80" font-family="Liberation Sans, sans-serif" font-size="8.66" text-anchor="end" fill="#1c1c1c" textLength="7.90" lengthAdjust="spacingAndGlyphs">90</text>
<rect x="265.70" y="66.30" width="7.40" height="7.00" fill="#004000"/>
<text x="292.40" y="72.30" font-family="Liberation Sans, sans-serif" font-size="7.10" text-anchor="middle" fill="#1c1c1c" stroke="#1c1c1c" stroke-width="0.25">&gt;</text>
<text x="306.80" y="72.50" font-family="Liberation Sans, sans-serif" font-size="8.66" text-anchor="end" fill="#1c1c1c" textLength="7.90" lengthAdjust="spacingAndGlyphs">90</text>
<rect x="262.30" y="77.20" width="50.10" height="48.60" fill="#fff" stroke="#777" stroke-width="0.8"/>
<path d="M262.30,125.80 H312.40 V77.20" fill="none" stroke="#444" stroke-width="1.0"/>
<text x="287.00" y="85.80" font-family="Liberation Sans, sans-serif" font-size="8.66" text-anchor="middle" fill="#1c1c1c" textLength="36.64" lengthAdjust="spacingAndGlyphs">Hold Values</text>
<text x="268.80" y="95.30" font-family="Liberation Sans, sans-serif" font-size="8.66" fill="#1c1c1c" textLength="14.20" lengthAdjust="spacingAndGlyphs">TDS</text>
<text x="306.00" y="95.30" font-family="Liberation Sans, sans-serif" font-size="8.66" text-anchor="end" fill="#1c1c1c" textLength="11.85" lengthAdjust="spacingAndGlyphs">960</text>
<text x="268.80" y="104.70" font-family="Liberation Sans, sans-serif" font-size="8.66" fill="#1c1c1c" textLength="15.78" lengthAdjust="spacingAndGlyphs">COD</text>
<text x="306.00" y="104.70" font-family="Liberation Sans, sans-serif" font-size="8.66" text-anchor="end" fill="#1c1c1c" textLength="17.77" lengthAdjust="spacingAndGlyphs">104.5</text>
<text x="268.80" y="114.00" font-family="Liberation Sans, sans-serif" font-size="8.66" fill="#1c1c1c" textLength="13.81" lengthAdjust="spacingAndGlyphs">TSS</text>
<text x="306.00" y="114.00" font-family="Liberation Sans, sans-serif" font-size="8.66" text-anchor="end" fill="#1c1c1c" textLength="17.77" lengthAdjust="spacingAndGlyphs">501.5</text>
<text x="268.80" y="123.70" font-family="Liberation Sans, sans-serif" font-size="8.66" fill="#1c1c1c" textLength="8.68" lengthAdjust="spacingAndGlyphs">Pb</text>
<text x="306.00" y="123.70" font-family="Liberation Sans, sans-serif" font-size="8.66" text-anchor="end" fill="#1c1c1c" textLength="9.87" lengthAdjust="spacingAndGlyphs">3.5</text>
<rect x="605.70" y="7.30" width="59.80" height="78.90" fill="#fff" stroke="#666" stroke-width="0.8"/>
<path d="M605.70,86.20 H665.50 V7.30" fill="none" stroke="#333" stroke-width="1.1"/>
<text x="631.70" y="16.40" font-family="Liberation Serif, serif" font-size="9.00" text-anchor="middle" font-weight="bold" fill="#000" stroke="#000" stroke-width="0.28">RE-COD</text>
<rect x="608.60" y="20.10" width="7.70" height="6.80" fill="#00007c"/>
<text x="634.90" y="26.00" font-family="Liberation Sans, sans-serif" font-size="7.10" text-anchor="middle" fill="#1c1c1c" stroke="#1c1c1c" stroke-width="0.25">&lt;</text>
<text x="650.40" y="26.20" font-family="Liberation Sans, sans-serif" font-size="8.66" text-anchor="end" fill="#1c1c1c" textLength="7.90" lengthAdjust="spacingAndGlyphs">70</text>
<rect x="608.60" y="29.70" width="7.70" height="6.80" fill="#1414ff"/>
<text x="628.30" y="35.80" font-family="Liberation Sans, sans-serif" font-size="8.66" text-anchor="end" fill="#1c1c1c" textLength="7.90" lengthAdjust="spacingAndGlyphs">70</text>
<text x="634.00" y="35.60" font-family="Liberation Sans, sans-serif" font-size="8.66" text-anchor="middle" fill="#1c1c1c">-</text>
<text x="650.40" y="35.80" font-family="Liberation Sans, sans-serif" font-size="8.66" text-anchor="end" fill="#1c1c1c" textLength="7.90" lengthAdjust="spacingAndGlyphs">75</text>
<rect x="608.60" y="39.00" width="7.70" height="6.80" fill="#aaaaff"/>
<text x="628.30" y="45.10" font-family="Liberation Sans, sans-serif" font-size="8.66" text-anchor="end" fill="#1c1c1c" textLength="7.90" lengthAdjust="spacingAndGlyphs">75</text>
<text x="634.00" y="44.90" font-family="Liberation Sans, sans-serif" font-size="8.66" text-anchor="middle" fill="#1c1c1c">-</text>
<text x="650.40" y="45.10" font-family="Liberation Sans, sans-serif" font-size="8.66" text-anchor="end" fill="#1c1c1c" textLength="7.90" lengthAdjust="spacingAndGlyphs">80</text>
<rect x="608.60" y="48.60" width="7.70" height="6.80" fill="#55ff55"/>
<text x="628.30" y="54.70" font-family="Liberation Sans, sans-serif" font-size="8.66" text-anchor="end" fill="#1c1c1c" textLength="7.90" lengthAdjust="spacingAndGlyphs">80</text>
<text x="634.00" y="54.50" font-family="Liberation Sans, sans-serif" font-size="8.66" text-anchor="middle" fill="#1c1c1c">-</text>
<text x="650.40" y="54.70" font-family="Liberation Sans, sans-serif" font-size="8.66" text-anchor="end" fill="#1c1c1c" textLength="7.90" lengthAdjust="spacingAndGlyphs">85</text>
<rect x="608.60" y="58.30" width="7.70" height="6.80" fill="#00d200"/>
<text x="628.30" y="64.40" font-family="Liberation Sans, sans-serif" font-size="8.66" text-anchor="end" fill="#1c1c1c" textLength="7.90" lengthAdjust="spacingAndGlyphs">85</text>
<text x="634.00" y="64.20" font-family="Liberation Sans, sans-serif" font-size="8.66" text-anchor="middle" fill="#1c1c1c">-</text>
<text x="650.40" y="64.40" font-family="Liberation Sans, sans-serif" font-size="8.66" text-anchor="end" fill="#1c1c1c" textLength="7.90" lengthAdjust="spacingAndGlyphs">90</text>
<rect x="608.60" y="67.90" width="7.70" height="6.80" fill="#009300"/>
<text x="628.30" y="74.00" font-family="Liberation Sans, sans-serif" font-size="8.66" text-anchor="end" fill="#1c1c1c" textLength="7.90" lengthAdjust="spacingAndGlyphs">90</text>
<text x="634.00" y="73.80" font-family="Liberation Sans, sans-serif" font-size="8.66" text-anchor="middle" fill="#1c1c1c">-</text>
<text x="650.40" y="74.00" font-family="Liberation Sans, sans-serif" font-size="8.66" text-anchor="end" fill="#1c1c1c" textLength="7.90" lengthAdjust="spacingAndGlyphs">95</text>
<rect x="608.60" y="77.20" width="7.70" height="6.80" fill="#006a00"/>
<text x="634.90" y="83.10" font-family="Liberation Sans, sans-serif" font-size="7.10" text-anchor="middle" fill="#1c1c1c" stroke="#1c1c1c" stroke-width="0.25">&gt;</text>
<text x="650.40" y="83.30" font-family="Liberation Sans, sans-serif" font-size="8.66" text-anchor="end" fill="#1c1c1c" textLength="7.90" lengthAdjust="spacingAndGlyphs">95</text>
<rect x="605.70" y="87.10" width="59.80" height="50.20" fill="#fff" stroke="#777" stroke-width="0.8"/>
<path d="M605.70,137.30 H665.50 V87.10" fill="none" stroke="#444" stroke-width="1.0"/>
<text x="635.20" y="95.80" font-family="Liberation Sans, sans-serif" font-size="8.66" text-anchor="middle" fill="#1c1c1c" textLength="36.64" lengthAdjust="spacingAndGlyphs">Hold Values</text>
<text x="610.00" y="105.40" font-family="Liberation Sans, sans-serif" font-size="8.66" fill="#1c1c1c" textLength="15.78" lengthAdjust="spacingAndGlyphs">COD</text>
<text x="661.00" y="105.40" font-family="Liberation Sans, sans-serif" font-size="8.66" text-anchor="end" fill="#1c1c1c" textLength="17.77" lengthAdjust="spacingAndGlyphs">104.5</text>
<text x="610.00" y="114.70" font-family="Liberation Sans, sans-serif" font-size="8.66" fill="#1c1c1c" textLength="13.81" lengthAdjust="spacingAndGlyphs">TSS</text>
<text x="661.00" y="114.70" font-family="Liberation Sans, sans-serif" font-size="8.66" text-anchor="end" fill="#1c1c1c" textLength="17.77" lengthAdjust="spacingAndGlyphs">501.5</text>
<text x="610.00" y="124.00" font-family="Liberation Sans, sans-serif" font-size="8.66" fill="#1c1c1c" textLength="8.68" lengthAdjust="spacingAndGlyphs">Pb</text>
<text x="661.00" y="124.00" font-family="Liberation Sans, sans-serif" font-size="8.66" text-anchor="end" fill="#1c1c1c" textLength="9.87" lengthAdjust="spacingAndGlyphs">3.5</text>
<text x="610.00" y="134.00" font-family="Liberation Sans, sans-serif" font-size="8.66" fill="#1c1c1c" textLength="28.02" lengthAdjust="spacingAndGlyphs">Dolomite</text>
<text x="661.00" y="134.00" font-family="Liberation Sans, sans-serif" font-size="8.66" text-anchor="end" fill="#1c1c1c" textLength="7.90" lengthAdjust="spacingAndGlyphs">10</text>
<rect x="259.80" y="250.80" width="60.20" height="60.10" fill="#fff" stroke="#666" stroke-width="0.8"/>
<path d="M259.80,310.90 H320.00 V250.80" fill="none" stroke="#333" stroke-width="1.1"/>
<text x="288.40" y="260.80" font-family="Liberation Serif, serif" font-size="9.00" text-anchor="middle" font-weight="bold" fill="#000" stroke="#000" stroke-width="0.28">RE-COD</text>
<rect x="262.40" y="262.80" width="7.80" height="7.00" fill="#d2fad2"/>
<text x="289.30" y="268.80" font-family="Liberation Sans, sans-serif" font-size="7.10" text-anchor="middle" fill="#1c1c1c" stroke="#1c1c1c" stroke-width="0.25">&lt;</text>
<text x="305.00" y="269.00" font-family="Liberation Sans, sans-serif" font-size="8.66" text-anchor="end" fill="#1c1c1c" textLength="7.90" lengthAdjust="spacingAndGlyphs">75</text>
<rect x="262.40" y="272.30" width="7.80" height="7.00" fill="#55ff55"/>
<text x="282.00" y="278.50" font-family="Liberation Sans, sans-serif" font-size="8.66" text-anchor="end" fill="#1c1c1c" textLength="7.90" lengthAdjust="spacingAndGlyphs">75</text>
<text x="288.40" y="278.30" font-family="Liberation Sans, sans-serif" font-size="8.66" text-anchor="middle" fill="#1c1c1c">-</text>
<text x="305.00" y="278.50" font-family="Liberation Sans, sans-serif" font-size="8.66" text-anchor="end" fill="#1c1c1c" textLength="7.90" lengthAdjust="spacingAndGlyphs">80</text>
<rect x="262.40" y="281.80" width="7.80" height="7.00" fill="#00d200"/>
<text x="282.00" y="288.00" font-family="Liberation Sans, sans-serif" font-size="8.66" text-anchor="end" fill="#1c1c1c" textLength="7.90" lengthAdjust="spacingAndGlyphs">80</text>
<text x="288.40" y="287.80" font-family="Liberation Sans, sans-serif" font-size="8.66" text-anchor="middle" fill="#1c1c1c">-</text>
<text x="305.00" y="288.00" font-family="Liberation Sans, sans-serif" font-size="8.66" text-anchor="end" fill="#1c1c1c" textLength="7.90" lengthAdjust="spacingAndGlyphs">85</text>
<rect x="262.40" y="291.30" width="7.80" height="7.00" fill="#009300"/>
<text x="282.00" y="297.50" font-family="Liberation Sans, sans-serif" font-size="8.66" text-anchor="end" fill="#1c1c1c" textLength="7.90" lengthAdjust="spacingAndGlyphs">85</text>
<text x="288.40" y="297.30" font-family="Liberation Sans, sans-serif" font-size="8.66" text-anchor="middle" fill="#1c1c1c">-</text>
<text x="305.00" y="297.50" font-family="Liberation Sans, sans-serif" font-size="8.66" text-anchor="end" fill="#1c1c1c" textLength="7.90" lengthAdjust="spacingAndGlyphs">90</text>
<rect x="262.40" y="301.20" width="7.80" height="7.00" fill="#006a00"/>
<text x="289.30" y="307.20" font-family="Liberation Sans, sans-serif" font-size="7.10" text-anchor="middle" fill="#1c1c1c" stroke="#1c1c1c" stroke-width="0.25">&gt;</text>
<text x="305.00" y="307.40" font-family="Liberation Sans, sans-serif" font-size="8.66" text-anchor="end" fill="#1c1c1c" textLength="7.90" lengthAdjust="spacingAndGlyphs">90</text>
<rect x="259.80" y="312.10" width="60.70" height="50.10" fill="#fff" stroke="#777" stroke-width="0.8"/>
<path d="M259.80,362.20 H320.50 V312.10" fill="none" stroke="#444" stroke-width="1.0"/>
<text x="289.40" y="321.10" font-family="Liberation Sans, sans-serif" font-size="8.66" text-anchor="middle" fill="#1c1c1c" textLength="36.64" lengthAdjust="spacingAndGlyphs">Hold Values</text>
<text x="264.70" y="330.60" font-family="Liberation Sans, sans-serif" font-size="8.66" fill="#1c1c1c" textLength="14.20" lengthAdjust="spacingAndGlyphs">TDS</text>
<text x="315.30" y="330.60" font-family="Liberation Sans, sans-serif" font-size="8.66" text-anchor="end" fill="#1c1c1c" textLength="11.85" lengthAdjust="spacingAndGlyphs">960</text>
<text x="264.70" y="339.90" font-family="Liberation Sans, sans-serif" font-size="8.66" fill="#1c1c1c" textLength="13.81" lengthAdjust="spacingAndGlyphs">TSS</text>
<text x="315.30" y="339.90" font-family="Liberation Sans, sans-serif" font-size="8.66" text-anchor="end" fill="#1c1c1c" textLength="17.77" lengthAdjust="spacingAndGlyphs">501.5</text>
<text x="264.70" y="349.40" font-family="Liberation Sans, sans-serif" font-size="8.66" fill="#1c1c1c" textLength="8.68" lengthAdjust="spacingAndGlyphs">Pb</text>
<text x="315.30" y="349.40" font-family="Liberation Sans, sans-serif" font-size="8.66" text-anchor="end" fill="#1c1c1c" textLength="9.87" lengthAdjust="spacingAndGlyphs">3.5</text>
<text x="264.70" y="359.10" font-family="Liberation Sans, sans-serif" font-size="8.66" fill="#1c1c1c" textLength="28.02" lengthAdjust="spacingAndGlyphs">Dolomite</text>
<text x="315.30" y="359.10" font-family="Liberation Sans, sans-serif" font-size="8.66" text-anchor="end" fill="#1c1c1c" textLength="7.90" lengthAdjust="spacingAndGlyphs">10</text>
<rect x="601.00" y="255.40" width="66.40" height="73.00" fill="#fff" stroke="#666" stroke-width="0.8"/>
<path d="M601.00,328.40 H667.40 V255.40" fill="none" stroke="#333" stroke-width="1.1"/>
<text x="637.90" y="263.40" font-family="Liberation Sans, sans-serif" font-size="8.50" text-anchor="middle" fill="#000" textLength="26.50" lengthAdjust="spacingAndGlyphs">RE-COD</text>
<rect x="603.00" y="267.20" width="8.00" height="7.40" fill="#d2fad2"/>
<text x="637.80" y="273.40" font-family="Liberation Sans, sans-serif" font-size="7.40" text-anchor="middle" fill="#1c1c1c" stroke="#1c1c1c" stroke-width="0.25">&lt;</text>
<text x="660.80" y="273.60" font-family="Liberation Sans, sans-serif" font-size="9.03" text-anchor="end" fill="#1c1c1c" textLength="14.40" lengthAdjust="spacingAndGlyphs">84.5</text>
<rect x="603.00" y="277.60" width="8.00" height="7.40" fill="#55ff55"/>
<text x="630.90" y="284.00" font-family="Liberation Sans, sans-serif" font-size="9.03" text-anchor="end" fill="#1c1c1c" textLength="14.40" lengthAdjust="spacingAndGlyphs">84.5</text>
<text x="636.90" y="283.80" font-family="Liberation Sans, sans-serif" font-size="9.03" text-anchor="middle" fill="#1c1c1c">-</text>
<text x="660.80" y="284.00" font-family="Liberation Sans, sans-serif" font-size="9.03" text-anchor="end" fill="#1c1c1c" textLength="14.40" lengthAdjust="spacingAndGlyphs">85.0</text>
<rect x="603.00" y="287.60" width="8.00" height="7.40" fill="#00d200"/>
<text x="630.90" y="294.00" font-family="Liberation Sans, sans-serif" font-size="9.03" text-anchor="end" fill="#1c1c1c" textLength="14.40" lengthAdjust="spacingAndGlyphs">85.0</text>
<text x="636.90" y="293.80" font-family="Liberation Sans, sans-serif" font-size="9.03" text-anchor="middle" fill="#1c1c1c">-</text>
<text x="660.80" y="294.00" font-family="Liberation Sans, sans-serif" font-size="9.03" text-anchor="end" fill="#1c1c1c" textLength="14.40" lengthAdjust="spacingAndGlyphs">85.5</text>
<rect x="603.00" y="297.80" width="8.00" height="7.40" fill="#009300"/>
<text x="630.90" y="304.20" font-family="Liberation Sans, sans-serif" font-size="9.03" text-anchor="end" fill="#1c1c1c" textLength="14.40" lengthAdjust="spacingAndGlyphs">85.5</text>
<text x="636.90" y="304.00" font-family="Liberation Sans, sans-serif" font-size="9.03" text-anchor="middle" fill="#1c1c1c">-</text>
<text x="660.80" y="304.20" font-family="Liberation Sans, sans-serif" font-size="9.03" text-anchor="end" fill="#1c1c1c" textLength="14.40" lengthAdjust="spacingAndGlyphs">86.0</text>
<rect x="603.00" y="307.70" width="8.00" height="7.40" fill="#006a00"/>
<text x="630.90" y="314.10" font-family="Liberation Sans, sans-serif" font-size="9.03" text-anchor="end" fill="#1c1c1c" textLength="14.40" lengthAdjust="spacingAndGlyphs">86.0</text>
<text x="636.90" y="313.90" font-family="Liberation Sans, sans-serif" font-size="9.03" text-anchor="middle" fill="#1c1c1c">-</text>
<text x="660.80" y="314.10" font-family="Liberation Sans, sans-serif" font-size="9.03" text-anchor="end" fill="#1c1c1c" textLength="14.40" lengthAdjust="spacingAndGlyphs">86.5</text>
<rect x="603.00" y="317.70" width="8.00" height="7.40" fill="#004000"/>
<text x="637.80" y="323.90" font-family="Liberation Sans, sans-serif" font-size="7.40" text-anchor="middle" fill="#1c1c1c" stroke="#1c1c1c" stroke-width="0.25">&gt;</text>
<text x="660.80" y="324.10" font-family="Liberation Sans, sans-serif" font-size="9.03" text-anchor="end" fill="#1c1c1c" textLength="14.40" lengthAdjust="spacingAndGlyphs">86.5</text>
<rect x="601.00" y="330.80" width="66.40" height="53.90" fill="#fff" stroke="#777" stroke-width="0.8"/>
<path d="M601.00,384.70 H667.40 V330.80" fill="none" stroke="#444" stroke-width="1.0"/>
<text x="633.50" y="339.20" font-family="Liberation Sans, sans-serif" font-size="9.03" text-anchor="middle" fill="#1c1c1c" textLength="38.18" lengthAdjust="spacingAndGlyphs">Hold Values</text>
<text x="607.00" y="349.70" font-family="Liberation Sans, sans-serif" font-size="9.03" fill="#1c1c1c" textLength="14.80" lengthAdjust="spacingAndGlyphs">TDS</text>
<text x="660.40" y="349.70" font-family="Liberation Sans, sans-serif" font-size="9.03" text-anchor="end" fill="#1c1c1c" textLength="12.35" lengthAdjust="spacingAndGlyphs">960</text>
<text x="607.00" y="360.30" font-family="Liberation Sans, sans-serif" font-size="9.03" fill="#1c1c1c" textLength="16.44" lengthAdjust="spacingAndGlyphs">COD</text>
<text x="660.40" y="360.30" font-family="Liberation Sans, sans-serif" font-size="9.03" text-anchor="end" fill="#1c1c1c" textLength="18.52" lengthAdjust="spacingAndGlyphs">104.5</text>
<text x="607.00" y="370.30" font-family="Liberation Sans, sans-serif" font-size="9.03" fill="#1c1c1c" textLength="29.20" lengthAdjust="spacingAndGlyphs">Dolomite</text>
<text x="660.40" y="370.30" font-family="Liberation Sans, sans-serif" font-size="9.03" text-anchor="end" fill="#1c1c1c" textLength="8.23" lengthAdjust="spacingAndGlyphs">10</text>
<text x="607.00" y="380.70" font-family="Liberation Sans, sans-serif" font-size="9.03" fill="#1c1c1c" textLength="16.17" lengthAdjust="spacingAndGlyphs">Time</text>
<text x="660.40" y="380.70" font-family="Liberation Sans, sans-serif" font-size="9.03" text-anchor="end" fill="#1c1c1c" textLength="18.52" lengthAdjust="spacingAndGlyphs">187.5</text>
<rect x="257.80" y="504.80" width="63.80" height="88.50" fill="#fff" stroke="#666" stroke-width="0.8"/>
<path d="M257.80,593.30 H321.60 V504.80" fill="none" stroke="#333" stroke-width="1.1"/>
<text x="290.90" y="514.50" font-family="Liberation Serif, serif" font-size="9.00" text-anchor="middle" font-weight="bold" fill="#000" stroke="#000" stroke-width="0.28">RE-TDS</text>
<rect x="260.30" y="516.80" width="7.90" height="7.00" fill="#0000ba"/>
<text x="293.20" y="522.80" font-family="Liberation Sans, sans-serif" font-size="7.10" text-anchor="middle" fill="#1c1c1c" stroke="#1c1c1c" stroke-width="0.25">&lt;</text>
<text x="315.20" y="523.00" font-family="Liberation Sans, sans-serif" font-size="8.66" text-anchor="end" fill="#1c1c1c" textLength="13.82" lengthAdjust="spacingAndGlyphs">60.0</text>
<rect x="260.30" y="526.50" width="7.90" height="7.00" fill="#1414ff"/>
<text x="286.70" y="532.70" font-family="Liberation Sans, sans-serif" font-size="8.66" text-anchor="end" fill="#1c1c1c" textLength="13.82" lengthAdjust="spacingAndGlyphs">60.0</text>
<text x="292.30" y="532.50" font-family="Liberation Sans, sans-serif" font-size="8.66" text-anchor="middle" fill="#1c1c1c">-</text>
<text x="315.20" y="532.70" font-family="Liberation Sans, sans-serif" font-size="8.66" text-anchor="end" fill="#1c1c1c" textLength="13.82" lengthAdjust="spacingAndGlyphs">62.5</text>
<rect x="260.30" y="536.20" width="7.90" height="7.00" fill="#6a6aff"/>
<text x="286.70" y="542.40" font-family="Liberation Sans, sans-serif" font-size="8.66" text-anchor="end" fill="#1c1c1c" textLength="13.82" lengthAdjust="spacingAndGlyphs">62.5</text>
<text x="292.30" y="542.20" font-family="Liberation Sans, sans-serif" font-size="8.66" text-anchor="middle" fill="#1c1c1c">-</text>
<text x="315.20" y="542.40" font-family="Liberation Sans, sans-serif" font-size="8.66" text-anchor="end" fill="#1c1c1c" textLength="13.82" lengthAdjust="spacingAndGlyphs">65.0</text>
<rect x="260.30" y="545.70" width="7.90" height="7.00" fill="#aaaaff"/>
<text x="286.70" y="551.90" font-family="Liberation Sans, sans-serif" font-size="8.66" text-anchor="end" fill="#1c1c1c" textLength="13.82" lengthAdjust="spacingAndGlyphs">65.0</text>
<text x="292.30" y="551.70" font-family="Liberation Sans, sans-serif" font-size="8.66" text-anchor="middle" fill="#1c1c1c">-</text>
<text x="315.20" y="551.90" font-family="Liberation Sans, sans-serif" font-size="8.66" text-anchor="end" fill="#1c1c1c" textLength="13.82" lengthAdjust="spacingAndGlyphs">67.5</text>
<rect x="260.30" y="555.40" width="7.90" height="7.00" fill="#55ff55"/>
<text x="286.70" y="561.60" font-family="Liberation Sans, sans-serif" font-size="8.66" text-anchor="end" fill="#1c1c1c" textLength="13.82" lengthAdjust="spacingAndGlyphs">67.5</text>
<text x="292.30" y="561.40" font-family="Liberation Sans, sans-serif" font-size="8.66" text-anchor="middle" fill="#1c1c1c">-</text>
<text x="315.20" y="561.60" font-family="Liberation Sans, sans-serif" font-size="8.66" text-anchor="end" fill="#1c1c1c" textLength="13.82" lengthAdjust="spacingAndGlyphs">70.0</text>
<rect x="260.30" y="565.10" width="7.90" height="7.00" fill="#00d200"/>
<text x="286.70" y="571.30" font-family="Liberation Sans, sans-serif" font-size="8.66" text-anchor="end" fill="#1c1c1c" textLength="13.82" lengthAdjust="spacingAndGlyphs">70.0</text>
<text x="292.30" y="571.10" font-family="Liberation Sans, sans-serif" font-size="8.66" text-anchor="middle" fill="#1c1c1c">-</text>
<text x="315.20" y="571.30" font-family="Liberation Sans, sans-serif" font-size="8.66" text-anchor="end" fill="#1c1c1c" textLength="13.82" lengthAdjust="spacingAndGlyphs">72.5</text>
<rect x="260.30" y="574.50" width="7.90" height="7.00" fill="#009300"/>
<text x="286.70" y="580.70" font-family="Liberation Sans, sans-serif" font-size="8.66" text-anchor="end" fill="#1c1c1c" textLength="13.82" lengthAdjust="spacingAndGlyphs">72.5</text>
<text x="292.30" y="580.50" font-family="Liberation Sans, sans-serif" font-size="8.66" text-anchor="middle" fill="#1c1c1c">-</text>
<text x="315.20" y="580.70" font-family="Liberation Sans, sans-serif" font-size="8.66" text-anchor="end" fill="#1c1c1c" textLength="13.82" lengthAdjust="spacingAndGlyphs">75.0</text>
<rect x="260.30" y="584.50" width="7.90" height="7.00" fill="#006a00"/>
<text x="293.20" y="590.50" font-family="Liberation Sans, sans-serif" font-size="7.10" text-anchor="middle" fill="#1c1c1c" stroke="#1c1c1c" stroke-width="0.25">&gt;</text>
<text x="315.20" y="590.70" font-family="Liberation Sans, sans-serif" font-size="8.66" text-anchor="end" fill="#1c1c1c" textLength="13.82" lengthAdjust="spacingAndGlyphs">75.0</text>
<rect x="257.80" y="595.00" width="63.80" height="50.50" fill="#fff" stroke="#777" stroke-width="0.8"/>
<path d="M257.80,645.50 H321.60 V595.00" fill="none" stroke="#444" stroke-width="1.0"/>
<text x="289.60" y="602.80" font-family="Liberation Sans, sans-serif" font-size="8.66" text-anchor="middle" fill="#1c1c1c" textLength="36.64" lengthAdjust="spacingAndGlyphs">Hold Values</text>
<text x="264.00" y="613.10" font-family="Liberation Sans, sans-serif" font-size="8.66" fill="#1c1c1c" textLength="14.20" lengthAdjust="spacingAndGlyphs">TDS</text>
<text x="315.20" y="613.10" font-family="Liberation Sans, sans-serif" font-size="8.66" text-anchor="end" fill="#1c1c1c" textLength="11.85" lengthAdjust="spacingAndGlyphs">960</text>
<text x="264.00" y="622.80" font-family="Liberation Sans, sans-serif" font-size="8.66" fill="#1c1c1c" textLength="13.81" lengthAdjust="spacingAndGlyphs">TSS</text>
<text x="315.20" y="622.80" font-family="Liberation Sans, sans-serif" font-size="8.66" text-anchor="end" fill="#1c1c1c" textLength="17.77" lengthAdjust="spacingAndGlyphs">501.5</text>
<text x="264.00" y="632.50" font-family="Liberation Sans, sans-serif" font-size="8.66" fill="#1c1c1c" textLength="8.68" lengthAdjust="spacingAndGlyphs">Pb</text>
<text x="315.20" y="632.50" font-family="Liberation Sans, sans-serif" font-size="8.66" text-anchor="end" fill="#1c1c1c" textLength="9.87" lengthAdjust="spacingAndGlyphs">3.5</text>
<text x="264.00" y="642.00" font-family="Liberation Sans, sans-serif" font-size="8.66" fill="#1c1c1c" textLength="28.02" lengthAdjust="spacingAndGlyphs">Dolomite</text>
<text x="315.20" y="642.00" font-family="Liberation Sans, sans-serif" font-size="8.66" text-anchor="end" fill="#1c1c1c" textLength="7.90" lengthAdjust="spacingAndGlyphs">10</text>
<rect x="597.00" y="505.40" width="59.80" height="79.40" fill="#fff" stroke="#666" stroke-width="0.8"/>
<path d="M597.00,584.80 H656.80 V505.40" fill="none" stroke="#333" stroke-width="1.1"/>
<text x="625.50" y="513.60" font-family="Liberation Serif, serif" font-size="9.00" text-anchor="middle" font-weight="bold" fill="#000" stroke="#000" stroke-width="0.28">RE-TDS</text>
<rect x="599.00" y="517.40" width="8.00" height="7.00" fill="#00007c"/>
<text x="626.40" y="523.40" font-family="Liberation Sans, sans-serif" font-size="7.10" text-anchor="middle" fill="#1c1c1c" stroke="#1c1c1c" stroke-width="0.25">&lt;</text>
<text x="642.30" y="523.60" font-family="Liberation Sans, sans-serif" font-size="8.66" text-anchor="end" fill="#1c1c1c" textLength="7.90" lengthAdjust="spacingAndGlyphs">55</text>
<rect x="599.00" y="526.80" width="8.00" height="7.00" fill="#1414ff"/>
<text x="619.30" y="533.00" font-family="Liberation Sans, sans-serif" font-size="8.66" text-anchor="end" fill="#1c1c1c" textLength="7.90" lengthAdjust="spacingAndGlyphs">55</text>
<text x="625.50" y="532.80" font-family="Liberation Sans, sans-serif" font-size="8.66" text-anchor="middle" fill="#1c1c1c">-</text>
<text x="642.30" y="533.00" font-family="Liberation Sans, sans-serif" font-size="8.66" text-anchor="end" fill="#1c1c1c" textLength="7.90" lengthAdjust="spacingAndGlyphs">60</text>
<rect x="599.00" y="536.40" width="8.00" height="7.00" fill="#aaaaff"/>
<text x="619.30" y="542.60" font-family="Liberation Sans, sans-serif" font-size="8.66" text-anchor="end" fill="#1c1c1c" textLength="7.90" lengthAdjust="spacingAndGlyphs">60</text>
<text x="625.50" y="542.40" font-family="Liberation Sans, sans-serif" font-size="8.66" text-anchor="middle" fill="#1c1c1c">-</text>
<text x="642.30" y="542.60" font-family="Liberation Sans, sans-serif" font-size="8.66" text-anchor="end" fill="#1c1c1c" textLength="7.90" lengthAdjust="spacingAndGlyphs">65</text>
<rect x="599.00" y="546.40" width="8.00" height="7.00" fill="#55ff55"/>
<text x="619.30" y="552.60" font-family="Liberation Sans, sans-serif" font-size="8.66" text-anchor="end" fill="#1c1c1c" textLength="7.90" lengthAdjust="spacingAndGlyphs">65</text>
<text x="625.50" y="552.40" font-family="Liberation Sans, sans-serif" font-size="8.66" text-anchor="middle" fill="#1c1c1c">-</text>
<text x="642.30" y="552.60" font-family="Liberation Sans, sans-serif" font-size="8.66" text-anchor="end" fill="#1c1c1c" textLength="7.90" lengthAdjust="spacingAndGlyphs">70</text>
<rect x="599.00" y="555.80" width="8.00" height="7.00" fill="#00d200"/>
<text x="619.30" y="562.00" font-family="Liberation Sans, sans-serif" font-size="8.66" text-anchor="end" fill="#1c1c1c" textLength="7.90" lengthAdjust="spacingAndGlyphs">70</text>
<text x="625.50" y="561.80" font-family="Liberation Sans, sans-serif" font-size="8.66" text-anchor="middle" fill="#1c1c1c">-</text>
<text x="642.30" y="562.00" font-family="Liberation Sans, sans-serif" font-size="8.66" text-anchor="end" fill="#1c1c1c" textLength="7.90" lengthAdjust="spacingAndGlyphs">75</text>
<rect x="599.00" y="565.30" width="8.00" height="7.00" fill="#009300"/>
<text x="619.30" y="571.50" font-family="Liberation Sans, sans-serif" font-size="8.66" text-anchor="end" fill="#1c1c1c" textLength="7.90" lengthAdjust="spacingAndGlyphs">75</text>
<text x="625.50" y="571.30" font-family="Liberation Sans, sans-serif" font-size="8.66" text-anchor="middle" fill="#1c1c1c">-</text>
<text x="642.30" y="571.50" font-family="Liberation Sans, sans-serif" font-size="8.66" text-anchor="end" fill="#1c1c1c" textLength="7.90" lengthAdjust="spacingAndGlyphs">80</text>
<rect x="599.00" y="575.30" width="8.00" height="7.00" fill="#006a00"/>
<text x="626.40" y="581.30" font-family="Liberation Sans, sans-serif" font-size="7.10" text-anchor="middle" fill="#1c1c1c" stroke="#1c1c1c" stroke-width="0.25">&gt;</text>
<text x="642.30" y="581.50" font-family="Liberation Sans, sans-serif" font-size="8.66" text-anchor="end" fill="#1c1c1c" textLength="7.90" lengthAdjust="spacingAndGlyphs">80</text>
<rect x="597.00" y="586.20" width="59.20" height="50.10" fill="#fff" stroke="#777" stroke-width="0.8"/>
<path d="M597.00,636.30 H656.20 V586.20" fill="none" stroke="#444" stroke-width="1.0"/>
<text x="625.90" y="594.20" font-family="Liberation Sans, sans-serif" font-size="8.66" text-anchor="middle" fill="#1c1c1c" textLength="36.64" lengthAdjust="spacingAndGlyphs">Hold Values</text>
<text x="601.00" y="603.70" font-family="Liberation Sans, sans-serif" font-size="8.66" fill="#1c1c1c" textLength="15.78" lengthAdjust="spacingAndGlyphs">COD</text>
<text x="651.90" y="603.70" font-family="Liberation Sans, sans-serif" font-size="8.66" text-anchor="end" fill="#1c1c1c" textLength="17.77" lengthAdjust="spacingAndGlyphs">104.5</text>
<text x="601.00" y="613.10" font-family="Liberation Sans, sans-serif" font-size="8.66" fill="#1c1c1c" textLength="13.81" lengthAdjust="spacingAndGlyphs">TSS</text>
<text x="651.90" y="613.10" font-family="Liberation Sans, sans-serif" font-size="8.66" text-anchor="end" fill="#1c1c1c" textLength="17.77" lengthAdjust="spacingAndGlyphs">501.5</text>
<text x="601.00" y="622.70" font-family="Liberation Sans, sans-serif" font-size="8.66" fill="#1c1c1c" textLength="8.68" lengthAdjust="spacingAndGlyphs">Pb</text>
<text x="651.90" y="622.70" font-family="Liberation Sans, sans-serif" font-size="8.66" text-anchor="end" fill="#1c1c1c" textLength="9.87" lengthAdjust="spacingAndGlyphs">3.5</text>
<text x="601.00" y="632.30" font-family="Liberation Sans, sans-serif" font-size="8.66" fill="#1c1c1c" textLength="28.02" lengthAdjust="spacingAndGlyphs">Dolomite</text>
<text x="651.90" y="632.30" font-family="Liberation Sans, sans-serif" font-size="8.66" text-anchor="end" fill="#1c1c1c" textLength="7.90" lengthAdjust="spacingAndGlyphs">10</text>
<rect x="0" y="0" width="685" height="2.9" fill="#000"/>
<rect x="0" y="0" width="3.1" height="752" fill="#000"/>
<rect x="681.5" y="0" width="3.5" height="752" fill="#000"/>
<rect x="0" y="748.6" width="685" height="3.4" fill="#000"/>
<rect x="335.7" y="0" width="3.4" height="752" fill="#000"/>
<rect x="0" y="240.3" width="685" height="3.2" fill="#000"/>
<rect x="0" y="498.6" width="685" height="3.3" fill="#000"/>
<defs><filter id="sh" x="-20%" y="-20%" width="150%" height="150%"><feDropShadow dx="0.8" dy="0.8" stdDeviation="0.6" flood-color="#000" flood-opacity="0.45"/></filter></defs>
<text x="9.70" y="34.70" font-family="Liberation Sans, sans-serif" font-size="30.00" font-weight="bold" fill="#000" filter="url(#sh)">a</text>
<text x="341.50" y="29.00" font-family="Liberation Sans, sans-serif" font-size="30.00" font-weight="bold" fill="#000" filter="url(#sh)">b</text>
<text x="11.50" y="262.70" font-family="Liberation Sans, sans-serif" font-size="30.00" font-weight="bold" fill="#000" filter="url(#sh)">c</text>
<text x="343.00" y="266.00" font-family="Liberation Sans, sans-serif" font-size="30.00" font-weight="bold" fill="#000" filter="url(#sh)">d</text>
<text x="11.60" y="518.60" font-family="Liberation Sans, sans-serif" font-size="30.00" font-weight="bold" fill="#000" filter="url(#sh)">e</text>
<text x="345.30" y="526.70" font-family="Liberation Sans, sans-serif" font-size="30.00" font-weight="bold" fill="#000" filter="url(#sh)">f</text>
</g>
</svg>
</body></html>
